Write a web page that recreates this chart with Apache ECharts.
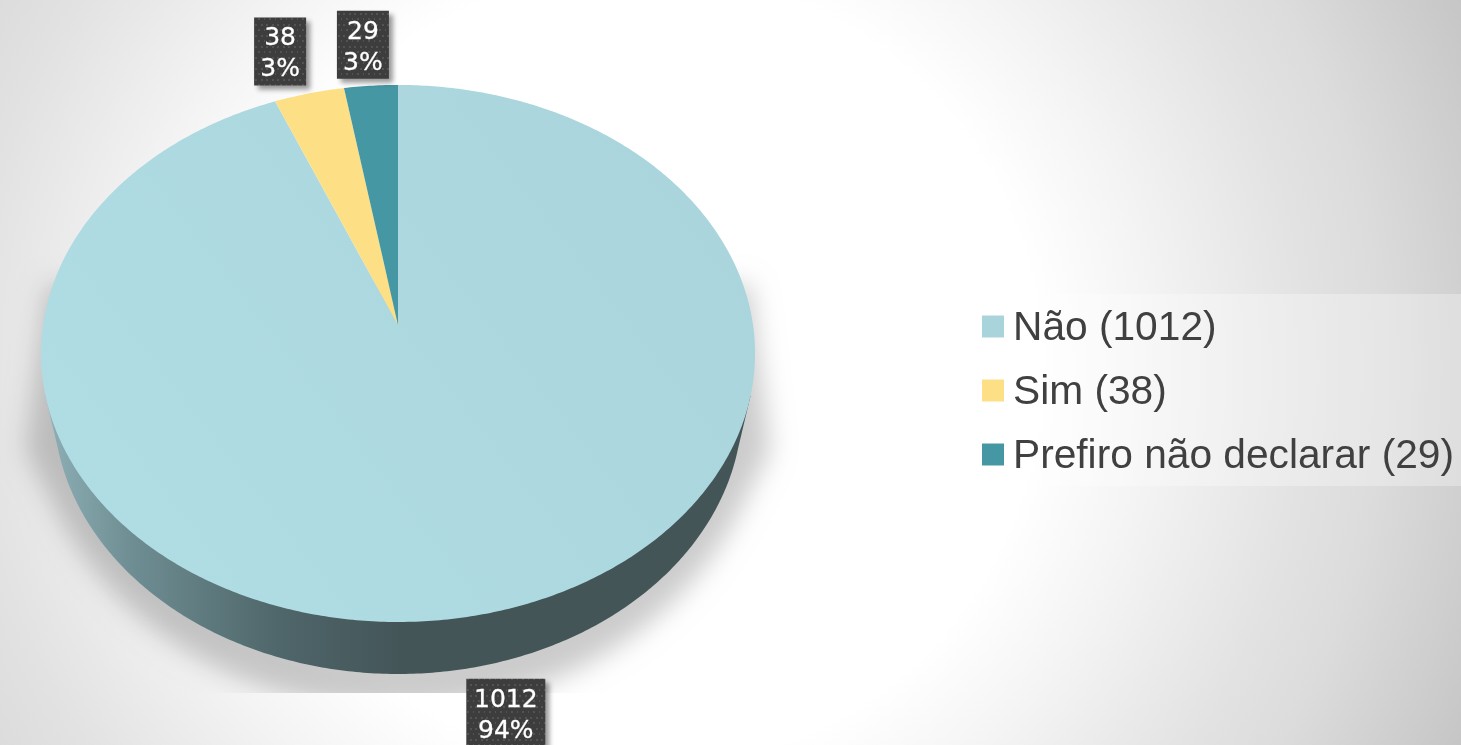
<!DOCTYPE html>
<html><head><meta charset="utf-8">
<style>html,body{margin:0;padding:0;overflow:hidden}#c{width:1461px;height:745px}</style>
<script src="https://cdn.jsdelivr.net/npm/echarts@6/dist/echarts.min.js"></script>
</head><body><div id="c"></div>
<script>
const categories = ['Não', 'Sim', 'Prefiro não declarar'];
const values = [1012, 38, 29];
const percentLabels = ['94%', '3%', '3%'];
const colors = ['#a9d4db', '#fde085', '#4597a4'];

// view of the tilted disc
const cx = 398, apexY = 325, radiusX = 355, radiusY = 265.5, tilt = 0.106, depth = 52, baseScale = 0.965;
const labelOffsets = [[31, 97], [-29, -42], [-8, -41]];
const total = values.reduce((a, b) => a + b, 0);

function project(theta, dy, s) {
  const X = Math.sin(theta), Y = Math.cos(theta), w = 1 + tilt * Y;
  return [cx + (s || 1) * radiusX * X / w, apexY - radiusY * Y / w + (dy || 0)];
}
function arc(a, b, dy, s) {
  const n = Math.max(2, Math.ceil(Math.abs(b - a) / 0.01)), pts = [];
  for (let i = 0; i <= n; i++) pts.push(project(a + (b - a) * i / n, dy, s));
  return pts;
}

const pat = document.createElement('canvas');
pat.width = pat.height = 11;
(function () {
  const g = pat.getContext('2d');
  g.fillStyle = '#3d3d3d'; g.fillRect(0, 0, 11, 11);
  g.fillStyle = '#535353';
  g.fillRect(2, 2, 2, 2); g.fillRect(8, 2, 2, 2); g.fillRect(5, 7, 2, 2); g.fillRect(0, 7, 1, 2);
})();

const wallFrom = 105 * Math.PI / 180, wallTo = 255 * Math.PI / 180;

function renderSlice(index) {
  return function (params, api) {
    const startV = api.value(0), v = api.value(1);
    const a = startV / total * 2 * Math.PI, b = (startV + v) / total * 2 * Math.PI;
    const children = [];
    const wa = Math.max(a, wallFrom), wb = Math.min(b, wallTo);
    if (wb > wa) {
      children.push({
        type: 'polygon',
        shape: { points: [project(wa)].concat(arc(wa, wb, depth, baseScale), [project(wb)]) },
        style: {
          fill: {
            type: 'linear', x: 42, y: 0, x2: 760, y2: 0, global: true,
            colorStops: [
              { offset: 0, color: '#8fb1b7' }, { offset: 0.12, color: '#6f8f94' },
              { offset: 0.33, color: '#4f666a' }, { offset: 0.5, color: '#445558' }, { offset: 1, color: '#445558' }
            ]
          }
        }
      });
    }
    const pts = [[cx, apexY]].concat(arc(a, b));
    const topFill = index === 0 ? {
      type: 'linear', x: 60, y: 620, x2: 740, y2: 90, global: true,
      colorStops: [{ offset: 0, color: '#b1dde4' }, { offset: 1, color: '#a9d4db' }]
    } : colors[index];
    children.push({ type: 'polygon', shape: { points: pts }, style: { fill: topFill } });
    const mid = project((a + b) / 2), off = labelOffsets[index];
    const lines = [String(values[index]), percentLabels[index]];
    const chars = Math.max(lines[0].length, lines[1].length);
    const w = 25 + 13.5 * chars, h = 68;
    const lx = mid[0] + off[0], ly = mid[1] + off[1];
    children.push({
      type: 'rect', z2: 10,
      shape: { x: lx - w / 2, y: ly - h / 2, width: w, height: h },
      style: { fill: { image: pat, repeat: 'repeat' }, shadowBlur: 5, shadowOffsetX: 4, shadowOffsetY: 4, shadowColor: 'rgba(0,0,0,0.4)' }
    });
    children.push({
      type: 'text', z2: 11, x: lx, y: ly + 3,
      style: {
        text: lines.join('\n'), fill: '#ffffff', stroke: '#ffffff', lineWidth: 0.3,
        align: 'center', verticalAlign: 'middle',
        font: '25px "DejaVu Sans"', lineHeight: 31
      }
    });
    return { type: 'group', children };
  };
}

const bgFill = () => ({
  type: 'radial', x: 640, y: 370, r: 1000, global: true,
  colorStops: [
    { offset: 0, color: '#ffffff' }, { offset: 0.40, color: '#ffffff' },
    { offset: 0.51, color: '#f4f4f4' }, { offset: 0.67, color: '#e2e2e2' },
    { offset: 0.74, color: '#dcdcdc' }, { offset: 0.90, color: '#c6c6c6' }, { offset: 1, color: '#b4b4b4' }
  ]
});

// ground shadow outline
const shadowPts = [];
shadowPts.push([48, 285], [26, 450]);
for (let t = Math.PI * 0.87; t >= Math.PI * 0.13; t -= 0.01) {
  shadowPts.push([398 + 375 * Math.cos(t), 370 + 340 * Math.sin(t)]);
}
shadowPts.push([770, 450], [750, 285]);
const far = 3000;

let acc = 0;
const series = categories.map((c, i) => {
  const s = {
    type: 'custom', name: c + ' (' + values[i] + ')', coordinateSystem: 'none', z: 5,
    silent: true, animation: false,
    itemStyle: { color: colors[i] },
    renderItem: renderSlice(i),
    data: [[acc, values[i]]]
  };
  acc += values[i];
  return s;
});

const chart = echarts.init(document.getElementById('c'), null, { renderer: 'canvas' });
chart.setOption({
  animation: false,
  legend: {
    orient: 'vertical', left: 965, top: 294, padding: [10, 15, 9, 17],
    backgroundColor: 'rgba(255,255,255,0.3)',
    icon: 'rect', itemWidth: 22, itemHeight: 22, itemGap: 19,
    selectedMode: false,
    formatter: '{t|{name}}',
    textStyle: {
      rich: { t: { color: '#404040', fontFamily: 'Liberation Sans', fontSize: 40.7, lineHeight: 46, padding: [4, 0, 0, 4] } }
    },
    data: series.map(s => s.name)
  },
  graphic: [
    { type: 'rect', z: 0, silent: true, shape: { x: 0, y: 0, width: 1461, height: 745 }, style: { fill: bgFill() } },
    {
      type: 'polygon', z: 1, silent: true, x: -far,
      shape: { points: shadowPts },
      style: { fill: '#000', shadowColor: 'rgba(0,0,0,0.2)', shadowBlur: 26, shadowOffsetX: far }
    },
    { type: 'rect', z: 2, silent: true, shape: { x: 0, y: 693, width: 1461, height: 52 }, style: { fill: bgFill() } }
  ],
  series
});
</script></body></html>
